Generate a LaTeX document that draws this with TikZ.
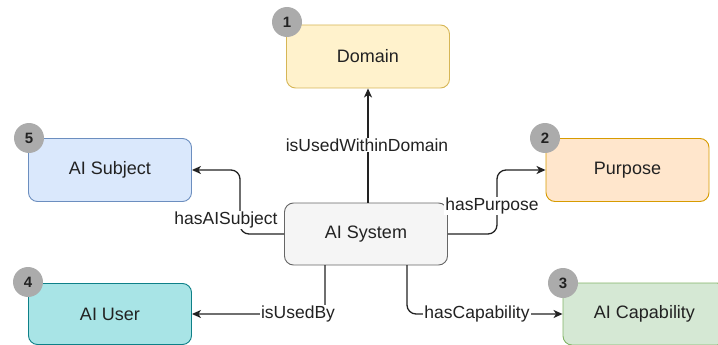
\documentclass[tikz,border=0pt]{standalone}
\usepackage{fontspec}
\setmainfont{Liberation Sans}
\usetikzlibrary{arrows.meta}
\definecolor{txt}{HTML}{222222}
\definecolor{domF}{HTML}{FFF2CC}\definecolor{domD}{HTML}{D6B656}
\definecolor{subF}{HTML}{DAE8FC}\definecolor{subD}{HTML}{6C8EBF}
\definecolor{purF}{HTML}{FFE6CC}\definecolor{purD}{HTML}{D79B00}
\definecolor{usrF}{HTML}{A8E4E6}\definecolor{usrD}{HTML}{0E8088}
\definecolor{capF}{HTML}{D5E8D4}\definecolor{capD}{HTML}{82B366}
\definecolor{sysF}{HTML}{F5F5F5}\definecolor{sysD}{HTML}{666666}
\definecolor{badgeF}{HTML}{ABABAB}
\begin{document}
\begin{tikzpicture}[x=1pt,y=-1pt,
  box/.style={draw, line width=0.9pt, rounded corners=9pt, minimum width=163pt, minimum height=63pt,
    inner sep=0pt, text=txt, font=\fontsize{18}{21}\selectfont},
  badge/.style={circle, fill=badgeF, minimum size=30pt, inner sep=0pt, text=txt,
    font=\bfseries\fontsize{15}{17}\selectfont},
  conn/.style={draw=txt, line width=1.3pt, rounded corners=9pt, -{Stealth[length=9pt,width=8pt,inset=2.5pt]}},
  lbl/.style={fill=white, inner sep=1pt, text=txt, font=\fontsize{17.5}{20}\selectfont}]
\useasboundingbox (0,0) rectangle (718,345);
\clip (0,0) rectangle (718,345);

\node[box, fill=domF, draw=domD] (domain) at (368,56.5) {Domain};
\node[box, fill=subF, draw=subD] (subject) at (110,170) {AI Subject};
\node[box, fill=purF, draw=purD] (purpose) at (627.5,170) {Purpose};
\node[box, fill=sysF, draw=sysD, minimum height=62pt] (system) at (366,234) {AI System};
\node[box, fill=usrF, draw=usrD, minimum height=61pt] (user) at (110,314) {AI User};
\node[box, fill=capF, draw=capD, minimum height=62pt] (cap) at (644.5,314) {AI Capability};

\node[badge] (b1) at (287,22) {1};
\node[badge] (b5) at (29,138) {5};
\node[badge] (b2) at (545,138) {2};
\node[badge] (b4) at (28,282) {4};
\node[badge] (b3) at (563,283) {3};

\coordinate (sysTop) at (368,202.5);
\coordinate (sysBl) at (325,265);
\coordinate (sysBr) at (407,265);

\draw[conn] (sysTop) -- (domain.south);
\draw[conn] (system.west) -| (240,170) -- (subject.east);
\draw[conn] (system.east) -| (497,170) -- (purpose.west);
\draw[conn] (sysBl) |- (user.east);
\draw[conn] (sysBr) |- (cap.west);

\node[lbl] (l1) at (367,145) {isUsedWithinDomain};
\node[lbl] (l5) at (226,220) {hasAISubject};
\node[lbl] (l2) at (492,206) {hasPurpose};
\node[lbl] (l4) at (298,314) {isUsedBy};
\node[lbl] (l3) at (477,314) {hasCapability};
\end{tikzpicture}
\end{document}
